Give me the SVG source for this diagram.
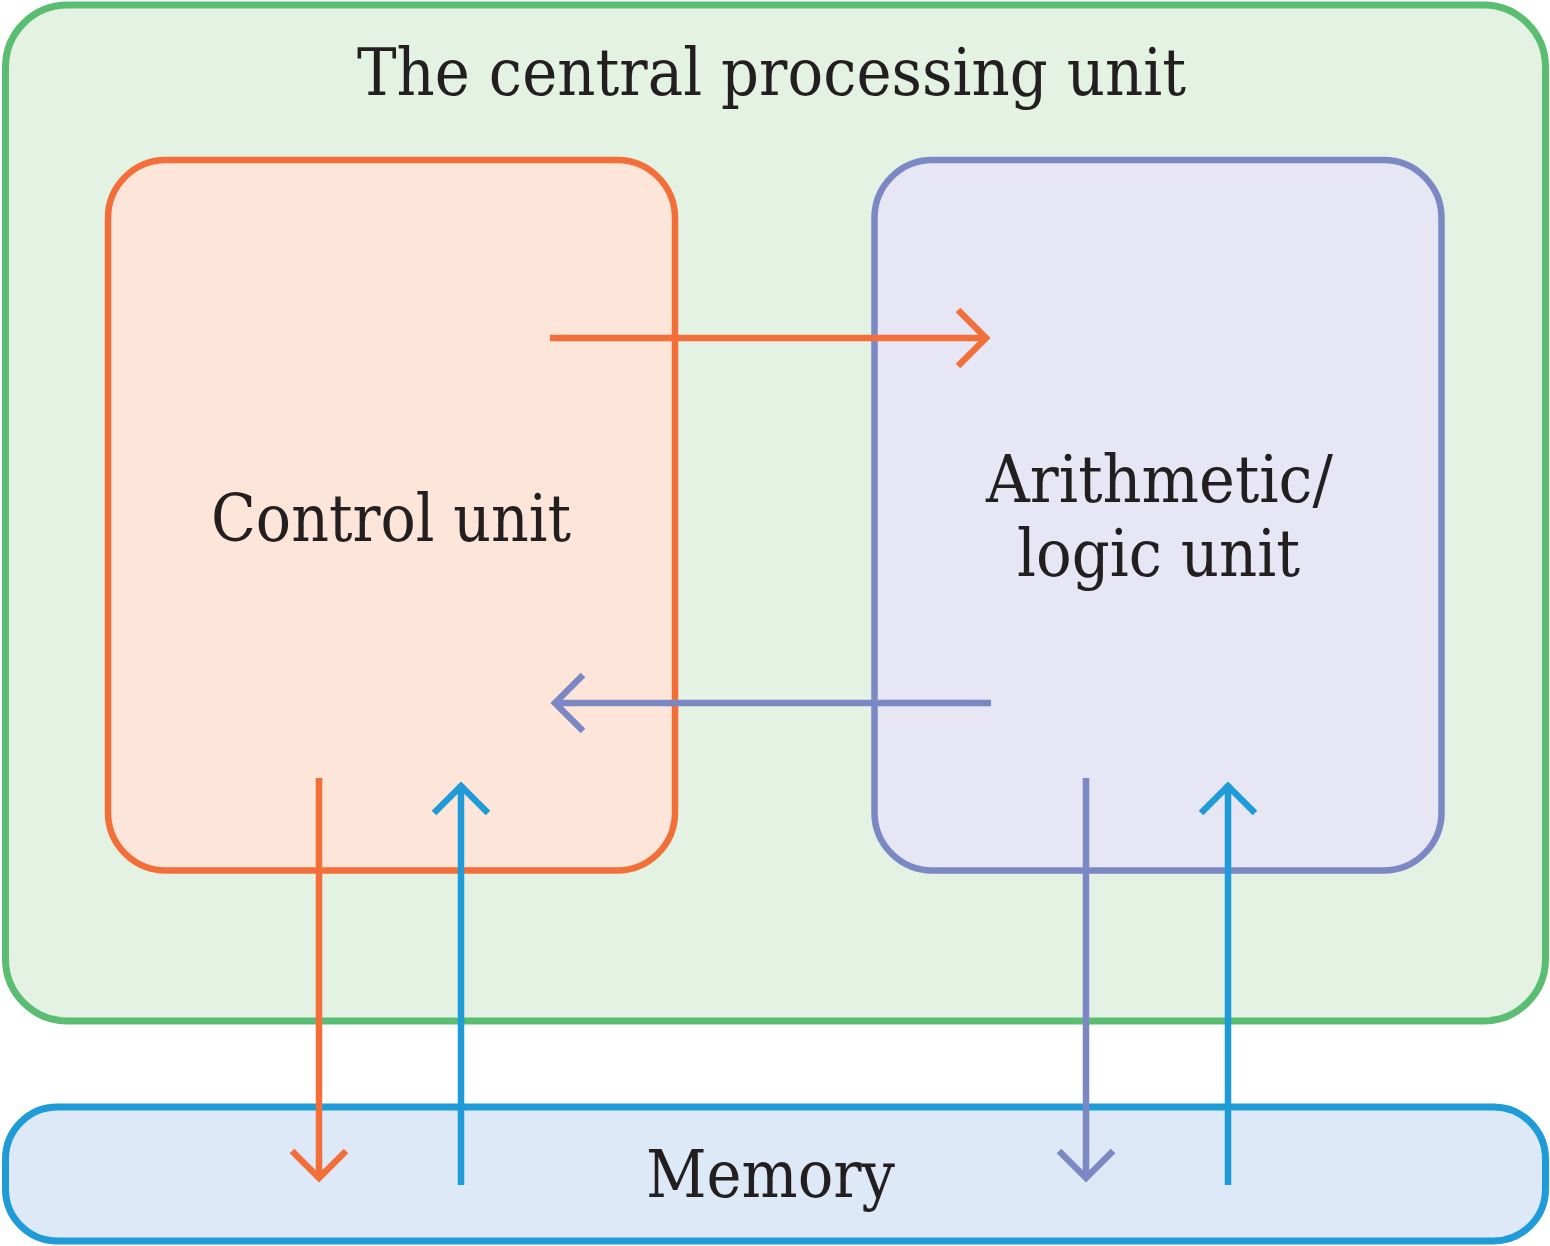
<svg xmlns="http://www.w3.org/2000/svg" width="1550" height="1246" viewBox="0 0 1550 1246">
<style>
.lbl{font-family:"DejaVu Serif","Liberation Serif",serif;font-size:65px;fill:#231f20;text-anchor:middle}
.c{fill:none;stroke-width:6.5;stroke-linecap:butt;stroke-linejoin:miter}
.or{stroke:#f26f3a}.pu{stroke:#7b88c4}.bl{stroke:#1f9bd7}
</style>
<rect width="1550" height="1246" fill="#ffffff"/>
<g id="cpu">
<rect x="5.5" y="5" width="1540" height="1016" rx="62" fill="#e4f2e4" stroke="#5bbd72" stroke-width="7"/>
<text class="lbl" x="771.5" y="95" textLength="829" lengthAdjust="spacingAndGlyphs">The central processing unit</text>
</g>
<g id="memory">
<rect x="5.5" y="1107" width="1540" height="134" rx="52" fill="#dde9f6" stroke="#1f9bd7" stroke-width="7"/>
<text class="lbl" x="770.5" y="1197" textLength="249" lengthAdjust="spacingAndGlyphs">Memory</text>
</g>
<g id="control-unit">
<rect x="108" y="160" width="567" height="710.5" rx="58" fill="#fde5d9" stroke="#f26f3a" stroke-width="6.5"/>
<text class="lbl" x="391" y="541" textLength="360" lengthAdjust="spacingAndGlyphs">Control unit</text>
</g>
<g id="alu">
<rect x="874.5" y="160" width="567" height="710.5" rx="58" fill="#e7e6f4" stroke="#7b88c4" stroke-width="6.5"/>
<text class="lbl" x="1159.5" y="502" textLength="347" lengthAdjust="spacingAndGlyphs">Arithmetic/</text>
<text class="lbl" x="1158.5" y="576" textLength="283" lengthAdjust="spacingAndGlyphs">logic unit</text>
</g>
<g id="connectors">
<path class="c or" d="M550 338H987M958 310L986 338L958 366"/>
<path class="c pu" d="M991 703H555M583 675L555 703L583 731"/>
<path class="c or" d="M319 778V1179M292 1151L319 1178L346 1151"/>
<path class="c bl" d="M461 1185V784M434 813L461 786L488 813"/>
<path class="c pu" d="M1086 778V1179M1059 1151L1086 1178L1113 1151"/>
<path class="c bl" d="M1228 1185V784M1201 813L1228 786L1255 813"/>
</g>
</svg>
